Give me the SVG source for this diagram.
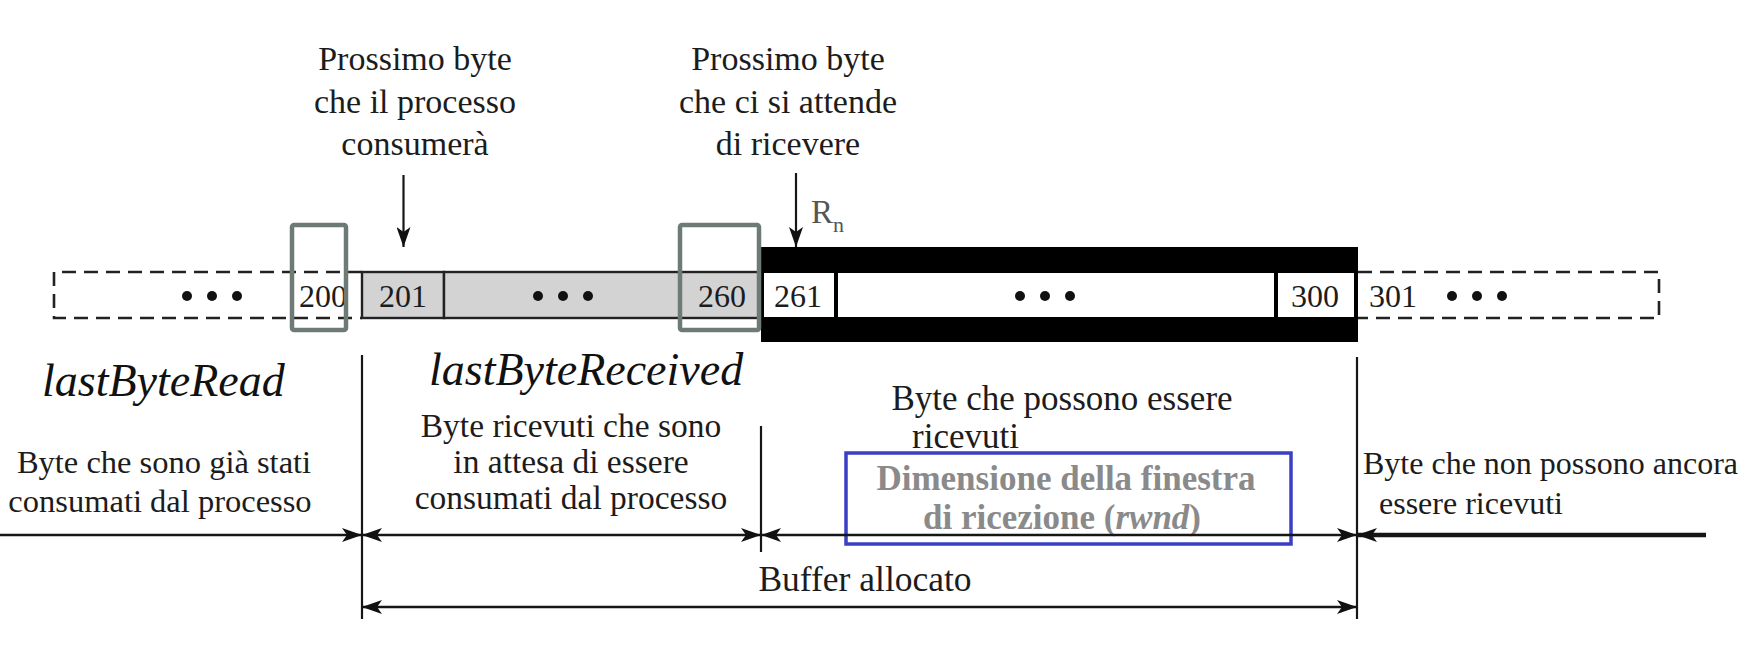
<svg xmlns="http://www.w3.org/2000/svg" width="1748" height="664" viewBox="0 0 1748 664">
<style>
.t{font-family:"Liberation Serif","Times New Roman",serif;font-size:32px;fill:#1c1c1c}
.c{text-anchor:middle}
.top{font-size:34px}
.it{font-family:"Liberation Serif","Times New Roman",serif;font-style:italic;font-size:46px;fill:#111}
.gr{fill:#8a8a8a;font-weight:bold;font-size:35px}
.ln{stroke:#161616;stroke-width:2.6;fill:none}
.vl{stroke:#161616;stroke-width:2.2;fill:none}
.dash{stroke:#222;stroke-width:2.6;fill:none;stroke-dasharray:14 8}
.cell{stroke:#222;stroke-width:2.4}
.hl{fill:none;stroke:#6e7b74;stroke-width:4.5}
.dot{fill:#111}
</style>
<defs>
<marker id="ah" viewBox="0 0 20 14" refX="20" refY="7" markerWidth="20" markerHeight="14" markerUnits="userSpaceOnUse" orient="auto-start-reverse">
<path d="M0,0 L20,7 L0,14 L5,7 Z" fill="#111"/>
</marker>
</defs>
<rect width="1748" height="664" fill="#fff"/>

<g id="label-next-consumed">
<text class="t top c" x="415" y="70">Prossimo byte</text>
<text class="t top c" x="415" y="113">che il processo</text>
<text class="t top c" x="415" y="155">consumerà</text>
</g>
<g id="label-next-expected">
<text class="t top c" x="788" y="70">Prossimo byte</text>
<text class="t top c" x="788" y="113">che ci si attende</text>
<text class="t top c" x="788" y="155">di ricevere</text>
</g>
<g id="label-rn">
<text x="811" y="223" style="font-family:'Liberation Serif','Times New Roman',serif;font-size:33px;fill:#555">R<tspan dy="9" font-size="22">n</tspan></text>
</g>

<g id="buffer-left-dashed">
<path class="dash" d="M362,272 H54 V318 H362"/>
<circle class="dot" cx="187" cy="296" r="5"/><circle class="dot" cx="212" cy="296" r="5"/><circle class="dot" cx="237" cy="296" r="5"/>
</g>
<g id="cell-200">
<text class="t c" x="323" y="307">200</text>
</g>
<g id="cell-201">
<rect class="cell" x="362" y="272" width="82" height="46" fill="#d3d3d3"/>
<text class="t c" x="403" y="307">201</text>
</g>
<g id="cells-waiting">
<rect class="cell" x="444" y="272" width="317" height="46" fill="#d3d3d3"/>
<circle class="dot" cx="538" cy="296" r="5"/><circle class="dot" cx="563" cy="296" r="5"/><circle class="dot" cx="588" cy="296" r="5"/>
</g>
<g id="cell-260">
<text class="t c" x="722" y="307">260</text>
</g>
<g id="window">
<rect x="761" y="247" width="597" height="95" fill="#000"/>
<rect x="764" y="273" width="70" height="44" fill="#fff"/>
<rect x="838" y="273" width="436" height="44" fill="#fff"/>
<rect x="1278" y="273" width="76" height="44" fill="#fff"/>
<text class="t c" x="798" y="307">261</text>
<circle class="dot" cx="1020" cy="296" r="5"/><circle class="dot" cx="1045" cy="296" r="5"/><circle class="dot" cx="1070" cy="296" r="5"/>
<text class="t c" x="1315" y="307">300</text>
</g>
<g id="buffer-right-dashed">
<path class="dash" d="M1358,272 H1659 V318 H1358"/>
<text class="t c" x="1393" y="307">301</text>
<circle class="dot" cx="1452" cy="296" r="5"/><circle class="dot" cx="1477" cy="296" r="5"/><circle class="dot" cx="1502" cy="296" r="5"/>
</g>

<g id="highlight-200"><rect class="hl" x="292" y="225" width="54" height="105" rx="2"/></g>
<g id="highlight-260"><rect class="hl" x="680" y="225" width="79" height="105" rx="2"/></g>

<g id="label-lastByteRead"><text class="it" x="42" y="396">lastByteRead</text></g>
<g id="label-lastByteReceived"><text class="it" x="429" y="385">lastByteReceived</text></g>

<g id="label-consumed">
<text class="t c" x="164" y="473" style="font-size:32.5px">Byte che sono già stati</text>
<text class="t c" x="160" y="512" style="font-size:32.5px">consumati dal processo</text>
</g>
<g id="label-waiting">
<text class="t c" x="571" y="437" style="font-size:33.5px">Byte ricevuti che sono</text>
<text class="t c" x="571" y="473" style="font-size:33.5px">in attesa di essere</text>
<text class="t c" x="571" y="509" style="font-size:33.5px">consumati dal processo</text>
</g>
<g id="label-receivable">
<text class="t c" x="1062" y="410" style="font-size:35px">Byte che possono essere</text>
<text class="t" x="912" y="448" style="font-size:35px">ricevuti</text>
</g>
<g id="rwnd-box">
<rect x="846" y="453" width="445" height="91" fill="none" stroke="#3a3fc4" stroke-width="3.5"/>
<text class="t c gr" x="1066" y="490">Dimensione della finestra</text>
<text class="t c gr" x="1062" y="529">di ricezione (<tspan font-style="italic">rwnd</tspan>)</text>
</g>
<g id="label-not-yet">
<text class="t" x="1363" y="474">Byte che non possono ancora</text>
<text class="t" x="1379" y="514">essere ricevuti</text>
</g>
<g id="label-buffer"><text class="t c" x="865" y="591" style="font-size:35.5px">Buffer allocato</text></g>

<g id="connectors">
<line class="vl" x1="403.5" y1="175" x2="403.5" y2="247" marker-end="url(#ah)"/>
<line class="vl" x1="796" y1="173" x2="796" y2="247" marker-end="url(#ah)"/>
<line class="vl" x1="362" y1="355" x2="362" y2="619"/>
<line class="vl" x1="761" y1="426" x2="761" y2="552"/>
<line class="vl" x1="1357" y1="357" x2="1357" y2="619"/>
<line class="ln" x1="0" y1="535" x2="362" y2="535" marker-end="url(#ah)"/>
<line class="ln" x1="362" y1="535" x2="761" y2="535" marker-start="url(#ah)" marker-end="url(#ah)"/>
<line class="ln" x1="761" y1="535" x2="1357" y2="535" marker-start="url(#ah)" marker-end="url(#ah)"/>
<line class="ln" x1="1357" y1="535" x2="1706" y2="535" style="stroke-width:4.5" marker-start="url(#ah)"/>
<line class="ln" x1="362" y1="607" x2="1357" y2="607" marker-start="url(#ah)" marker-end="url(#ah)"/>
</g>
</svg>
